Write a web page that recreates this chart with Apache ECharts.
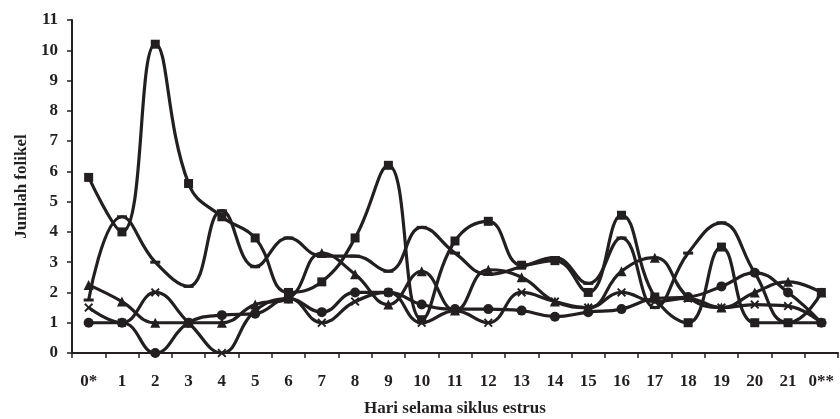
<!DOCTYPE html>
<html>
<head>
<meta charset="utf-8">
<script src="https://cdn.jsdelivr.net/npm/echarts@6/dist/echarts.min.js"></script>
<style>html,body{margin:0;padding:0;background:#fff}#c{width:840px;height:419px}</style>
</head>
<body>
<div id="c"></div>
<script>
var categories = ['0*','1','2','3','4','5','6','7','8','9','10','11','12','13','14','15','16','17','18','19','20','21','0**'];
var squareSeries   = [5.8, 4.0, 10.2, 5.6, 4.5, 3.8, 2.0, 2.35, 3.8, 6.2, 1.1, 3.7, 4.35, 2.9, 3.05, 2.0, 4.55, 1.85, 1.0, 3.5, 1.0, 1.0, 2.0];
var dashSeries     = [1.75, 4.5, 3.0, 2.2, 4.7, 2.85, 3.8, 3.2, 3.2, 2.7, 4.15, 3.3, 2.6, 2.85, 3.15, 2.3, 3.8, 1.5, 3.3, 4.3, 2.65, 1.0, 1.0];
var triangleSeries = [2.25, 1.7, 1.0, 1.0, 1.0, 1.6, 1.8, 3.3, 2.6, 1.6, 2.7, 1.4, 2.75, 2.5, 1.7, 1.5, 2.7, 3.15, 1.85, 1.5, 2.0, 2.35, 2.0];
var crossSeries    = [1.5, 1.0, 2.0, 1.0, 0, 1.4, 1.8, 1.0, 1.7, 2.0, 1.0, 1.4, 1.0, 2.0, 1.7, 1.5, 2.0, 1.7, 1.8, 1.5, 1.6, 1.55, 1.0];
var circleSeries   = [1.0, 1.0, 0, 1.0, 1.25, 1.3, 1.8, 1.35, 2.0, 2.0, 1.6, 1.45, 1.45, 1.4, 1.2, 1.35, 1.45, 1.8, 1.85, 2.2, 2.65, 2.0, 1.0];
var yTicks = [0,1,2,3,4,5,6,7,8,9,10,11];

var ink = '#231f20';
var font = '"Liberation Serif", "Times New Roman", serif';
var crossPath = 'path://M0,1.5L1.5,0L5,3.5L8.5,0L10,1.5L6.5,5L10,8.5L8.5,10L5,6.5L1.5,10L0,8.5L3.5,5Z';

function mk(name, data, symbol, size) {
  return {
    name: name, type: 'line', data: data, smooth: 0.45,
    symbol: symbol, symbolSize: size, showSymbol: true,
    lineStyle: {color: ink, width: 3.2},
    itemStyle: {color: ink, borderColor: ink, borderWidth: 0},
    z: 3
  };
}

var chart = echarts.init(document.getElementById('c'), null, {renderer: 'canvas'});
chart.setOption({
  animation: false,
  backgroundColor: '#fff',
  grid: {left: 72, right: 2, top: 20, bottom: 66, containLabel: false, outerBoundsMode: 'none'},
  xAxis: {
    type: 'category', data: categories, boundaryGap: true,
    axisLine: {lineStyle: {color: ink, width: 2}},
    axisTick: {show: true, length: 5, inside: false, lineStyle: {color: ink, width: 1.5}},
    axisLabel: {color: ink, fontFamily: font, fontWeight: 'bold', fontSize: 17, margin: 20, interval: 0},
    name: 'Hari selama siklus estrus', nameLocation: 'middle', nameGap: 47,
    nameTextStyle: {color: ink, fontFamily: font, fontWeight: 'bold', fontSize: 17}
  },
  yAxis: {
    type: 'value', min: yTicks[0], max: yTicks[yTicks.length - 1], interval: 1,
    axisLine: {show: true, lineStyle: {color: ink, width: 2}},
    axisTick: {show: true, length: 5, lineStyle: {color: ink, width: 1.5}},
    splitLine: {show: false},
    axisLabel: {color: ink, fontFamily: font, fontWeight: 'bold', fontSize: 17, margin: 14},
    name: 'Jumlah folikel', nameLocation: 'middle', nameGap: 42, nameRotate: 90,
    nameTextStyle: {color: ink, fontFamily: font, fontWeight: 'bold', fontSize: 17}
  },
  series: [
    mk('A', squareSeries, 'rect', 9),
    mk('B', dashSeries, 'rect', [10, 3]),
    mk('C', triangleSeries, 'triangle', 10),
    mk('D', crossSeries, crossPath, 9),
    mk('E', circleSeries, 'circle', 10)
  ]
});
</script>
</body>
</html>
